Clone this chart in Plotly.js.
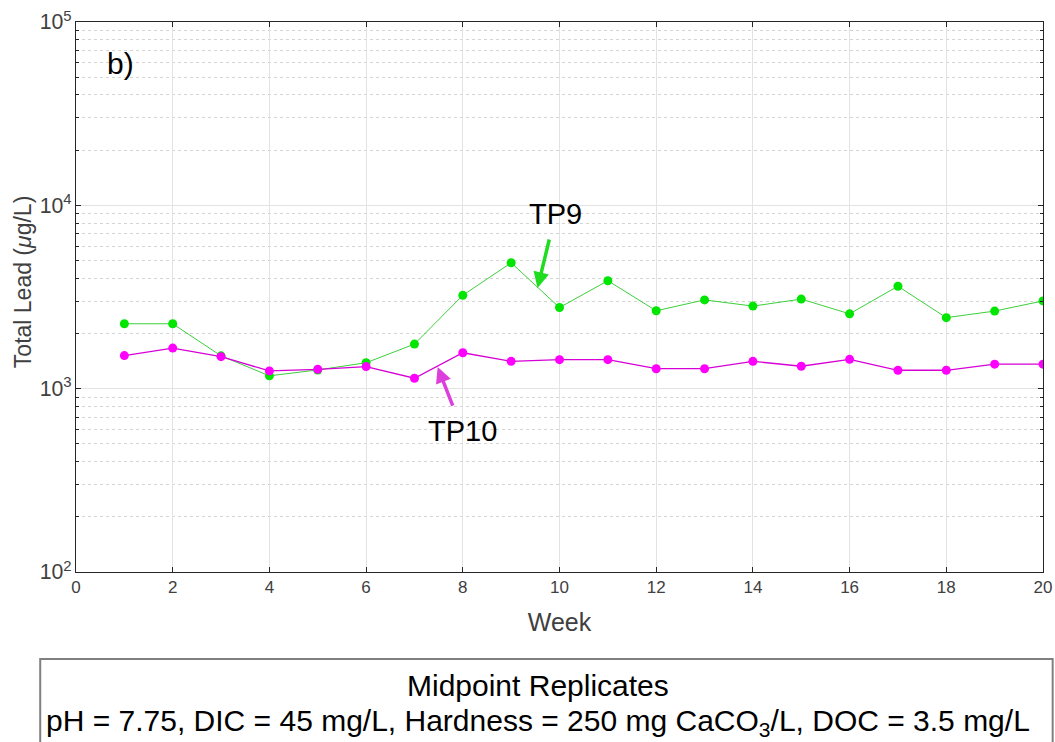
<!DOCTYPE html>
<html>
<head>
<meta charset="utf-8">
<script src="https://cdn.plot.ly/plotly-3.0.1.min.js"></script>
<style>html,body{margin:0;padding:0;background:#fff;}#chart{width:1055px;height:742px;}</style>
</head>
<body>
<div id="chart"></div>
<script>
const weeks = [1,2,3,4,5,6,7,8,9,10,11,12,13,14,15,16,17,18,19,20];
const tp9 = [2260,2260,1510,1175,1265,1385,1750,3230,4860,2770,3880,2660,3050,2820,3080,2560,3620,2440,2650,3010];
const tp10 = [1515,1665,1495,1250,1275,1320,1140,1570,1410,1440,1440,1285,1285,1410,1325,1445,1260,1260,1360,1360];

const traces = [
  {x: weeks, y: tp9, name: 'TP9', mode: 'lines+markers', type: 'scatter',
   line: {color: '#3ccf3c', width: 1}, marker: {color: '#00e600', size: 9}},
  {x: weeks, y: tp10, name: 'TP10', mode: 'lines+markers', type: 'scatter',
   line: {color: '#d600d6', width: 1.3}, marker: {color: '#ff00ff', size: 9}}
];

const axisCol = '#262626';
const layout = {
  width: 1055, height: 742,
  margin: {l: 76, r: 12, t: 22, b: 170},
  paper_bgcolor: '#fff', plot_bgcolor: '#fff',
  showlegend: false,
  font: {family: 'Liberation Sans, Arial, sans-serif', color: axisCol},
  xaxis: {
    range: [0, 20], dtick: 2, tick0: 0,
    showline: true, linecolor: axisCol, linewidth: 1, mirror: 'ticks',
    ticks: 'inside', ticklen: 5, tickcolor: axisCol,
    showgrid: true, gridcolor: '#e3e3e3', gridwidth: 1, zeroline: false,
    tickfont: {size: 17, color: '#404040'},
    title: {text: 'Week', font: {size: 25, color: '#404040'}, standoff: 17}
  },
  yaxis: {
    type: 'log', range: [2, 5],
    tickmode: 'linear', tick0: 0, dtick: 1, exponentformat: 'power',
    showline: true, linecolor: axisCol, linewidth: 1, mirror: 'ticks',
    ticks: 'inside', ticklen: 5, tickcolor: axisCol,
    showgrid: true, gridcolor: '#e3e3e3', gridwidth: 1, zeroline: false,
    minor: {dtick: 'D1', ticks: 'inside', ticklen: 3, tickcolor: axisCol, showgrid: true, gridcolor: '#d4d4d4', griddash: 'dot', gridwidth: 1},
    tickfont: {size: 17, color: '#404040'}
  },
  shapes: [
    {type: 'rect', xref: 'paper', yref: 'paper', x0: -0.037, x1: 1.01, y0: -0.40, y1: -0.158,
     line: {color: '#808080', width: 2}, fillcolor: 'rgba(0,0,0,0)'}
  ],
  annotations: [
    {xref: 'paper', yref: 'paper', x: -0.0548, y: 0.527, text: 'Total Lead (<i>μ</i>g/L)', textangle: -90, showarrow: false,
     font: {size: 23, color: '#404040'}, xanchor: 'center', yanchor: 'middle'},
    {xref: 'paper', yref: 'paper', x: 0.0465, y: 0.925, text: 'b)', showarrow: false,
     font: {size: 30, color: '#000'}, xanchor: 'center', yanchor: 'middle'},
    {x: 9.545, y: 3.549, text: 'TP9', showarrow: true, ax: 18, ay: -74, borderpad: 9,
     font: {size: 29, color: '#000'}, arrowhead: 2, arrowsize: 0.9, arrowwidth: 3.5, arrowcolor: '#1fdc1f'},
    {x: 7.48, y: 3.118, text: 'TP10', showarrow: true, ax: 25, ay: 64, borderpad: 9,
     font: {size: 29, color: '#000'}, arrowhead: 2, arrowsize: 0.9, arrowwidth: 3.5, arrowcolor: '#dc3fdc'},
    {xref: 'paper', yref: 'paper', x: 0.478, y: -0.207, text: 'Midpoint Replicates', showarrow: false,
     font: {size: 30, color: '#000'}, xanchor: 'center', yanchor: 'middle'},
    {xref: 'paper', yref: 'paper', x: 0.478, y: -0.274, text: 'pH = 7.75, DIC = 45 mg/L, Hardness = 250 mg CaCO<sub>3</sub>/L, DOC = 3.5 mg/L', showarrow: false,
     font: {size: 30, color: '#000'}, xanchor: 'center', yanchor: 'middle'}
  ]
};

Plotly.newPlot('chart', traces, layout, {displayModeBar: false, staticPlot: true});
</script>
</body>
</html>
